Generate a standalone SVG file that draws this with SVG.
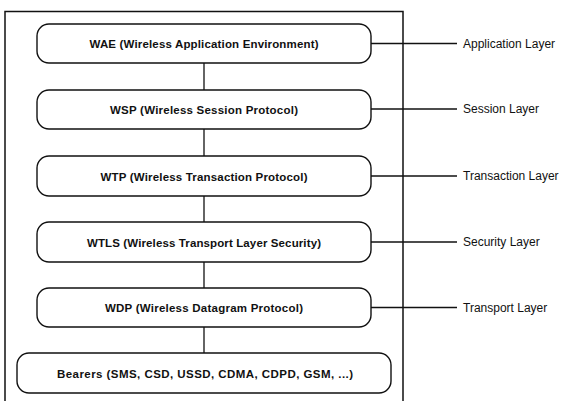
<svg xmlns="http://www.w3.org/2000/svg" width="561" height="401" viewBox="0 0 561 401">
<style>
.frame{fill:none;stroke:#111;stroke-width:1.5}
.box{fill:#fff;stroke:#111;stroke-width:1.4}
.conn{stroke:#111;stroke-width:1.3;fill:none}
.t{font-family:"Liberation Sans",Arial,sans-serif;font-size:11.5px;font-weight:bold;fill:#111;text-anchor:middle}
.lbl{font-family:"Liberation Sans",Arial,sans-serif;font-size:12px;fill:#111}
</style>
<rect width="561" height="401" fill="#fff"/>
<path class="frame" d="M5,401 V11.5 H403 V401"/>
<g id="connectors">
<line class="conn" x1="204" y1="63" x2="204" y2="90"/>
<line class="conn" x1="204" y1="129" x2="204" y2="156"/>
<line class="conn" x1="204" y1="196" x2="204" y2="222"/>
<line class="conn" x1="204" y1="262" x2="204" y2="288"/>
<line class="conn" x1="204" y1="327" x2="204" y2="353"/>
<line class="conn" x1="371" y1="43.5" x2="457" y2="43.5"/>
<line class="conn" x1="371" y1="109" x2="457" y2="109"/>
<line class="conn" x1="371" y1="176" x2="457" y2="176"/>
<line class="conn" x1="371" y1="242" x2="457" y2="242"/>
<line class="conn" x1="371" y1="307.5" x2="457" y2="307.5"/>
</g>
<g id="wae">
<rect class="box" x="37" y="24" width="334" height="39" rx="12"/>
<text class="t" x="204" y="47.5" textLength="229" lengthAdjust="spacing">WAE (Wireless Application Environment)</text>
</g>
<g id="wsp">
<rect class="box" x="37" y="90" width="334" height="39" rx="12"/>
<text class="t" x="204" y="113.5" textLength="188" lengthAdjust="spacing">WSP (Wireless Session Protocol)</text>
</g>
<g id="wtp">
<rect class="box" x="37" y="156" width="334" height="40" rx="12"/>
<text class="t" x="204" y="180.5" textLength="207" lengthAdjust="spacing">WTP (Wireless Transaction Protocol)</text>
</g>
<g id="wtls">
<rect class="box" x="37" y="222" width="334" height="40" rx="12"/>
<text class="t" x="204" y="246.5" textLength="234" lengthAdjust="spacing">WTLS (Wireless Transport Layer Security)</text>
</g>
<g id="wdp">
<rect class="box" x="37" y="288" width="334" height="39" rx="12"/>
<text class="t" x="204" y="311.5" textLength="198" lengthAdjust="spacing">WDP (Wireless Datagram Protocol)</text>
</g>
<g id="bearers">
<rect class="box" x="17" y="353" width="374" height="40" rx="12"/>
<text class="t" x="205" y="377.5" textLength="296" lengthAdjust="spacing">Bearers (SMS, CSD, USSD, CDMA, CDPD, GSM, ...)</text>
</g>
<g id="labels">
<text class="lbl" x="463" y="47.5">Application Layer</text>
<text class="lbl" x="463" y="113">Session Layer</text>
<text class="lbl" x="463" y="180">Transaction Layer</text>
<text class="lbl" x="463" y="246">Security Layer</text>
<text class="lbl" x="463" y="311.5">Transport Layer</text>
</g>
</svg>
